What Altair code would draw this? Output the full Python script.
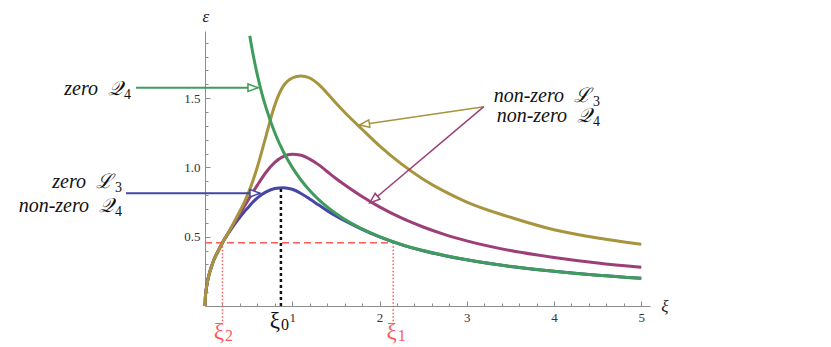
import math
import altair as alt
import pandas as pd

# ---------------- data ----------------
xi = [0, 0.005, 0.015, 0.03, 0.05, 0.075, 0.1, 0.15, 0.2, 0.25,
      0.3, 0.35, 0.4, 0.45, 0.5, 0.55, 0.6, 0.7, 0.8, 0.9,
      1.0, 1.1, 1.2, 1.3, 1.4, 1.5, 1.6, 1.8, 2.0, 2.25,
      2.5, 2.75, 3.0, 3.5, 4.0, 4.5, 5.0]
eps_gold = [0, 0.07, 0.125, 0.18, 0.235, 0.285, 0.33, 0.395, 0.457, 0.51,
            0.566, 0.625, 0.685, 0.748, 0.82, 0.905, 1.003, 1.228, 1.45, 1.59,
            1.645, 1.66, 1.645, 1.6, 1.535, 1.465, 1.398, 1.275, 1.155, 1.025,
            0.915, 0.825, 0.75, 0.64, 0.55, 0.49, 0.445]
eps_magenta = [0, 0.07, 0.125, 0.18, 0.235, 0.285, 0.33, 0.395, 0.457, 0.51,
               0.562, 0.614, 0.666, 0.718, 0.77, 0.822, 0.872, 0.965, 1.036, 1.08,
               1.094, 1.087, 1.06, 1.02, 0.97, 0.92, 0.875, 0.79, 0.715, 0.635,
               0.57, 0.515, 0.47, 0.40, 0.35, 0.31, 0.279]
eps_blue = [0, 0.07, 0.125, 0.18, 0.235, 0.285, 0.33, 0.395, 0.457, 0.508,
            0.555, 0.6, 0.64, 0.68, 0.715, 0.75, 0.78, 0.823, 0.848, 0.854,
            0.842, 0.812, 0.772, 0.73, 0.688, 0.65, 0.615, 0.553, 0.499, 0.443,
            0.399, 0.363, 0.333, 0.285, 0.25, 0.222, 0.2]
xi_green = [0.513, 0.55, 0.6, 0.65, 0.7, 0.8, 0.9, 1.0, 1.1, 1.2, 1.3, 1.4,
            1.5, 1.6, 1.8, 2.0, 2.25, 2.5, 2.75, 3.0, 3.5, 4.0, 4.5, 5.0]
eps_green = [1.95, 1.818, 1.667, 1.538, 1.429, 1.25, 1.111, 1.0, 0.909, 0.833,
             0.769, 0.714, 0.667, 0.625, 0.556, 0.5, 0.444, 0.4, 0.364, 0.333,
             0.286, 0.25, 0.222, 0.2]

# special points
xi0, eps0 = 0.87, 0.854          # peak of the blue curve
xi2, xi1, eps_cut = 0.2, 2.157, 0.457

# tick values / labels
x_labels = [1, 2, 3, 4, 5]
y_labels = [0.5, 1.0, 1.5]
x_ticks = [0.2, 0.4, 0.6, 0.8, 1.0, 1.2, 1.4, 1.6, 1.8, 2.0, 2.2, 2.4, 2.6,
           2.8, 3.0, 3.2, 3.4, 3.6, 3.8, 4.0, 4.2, 4.4, 4.6, 4.8, 5.0]
y_ticks = [0.1, 0.2, 0.3, 0.4, 0.5, 0.6, 0.7, 0.8, 0.9, 1.0, 1.1, 1.2, 1.3,
           1.4, 1.5, 1.6, 1.7, 1.8, 1.9]

# annotation texts (main part + subscript digit)
label_main = ["zero\u2002\U0001D4AC", "zero\u2002\u2112", "non-zero\u2002\U0001D4AC",
              "non-zero\u2002\u2112", "non-zero\u2002\U0001D4AC"]
label_sub = ["4", "3", "4", "3", "4"]
xi_main = ["\u03be", "\u03be", "\u03be"]
xi_sub = ["2", "1", "0"]

# ---------------- layout / style ----------------
W, H = 445, 275
X_DOM = [0, 5.1]
Y_DOM = [0, 1.984]
PX = W / (X_DOM[1] - X_DOM[0])
PY = H / (Y_DOM[1] - Y_DOM[0])
SERIF = "Liberation Serif"
GOLD, MAGENTA, BLUE, GREEN = "#a6943e", "#9c3f78", "#4646a6", "#3f9c5c"
RED = "#ff5a5a"
AXC = "#8c8c8c"

xs = alt.Scale(domain=X_DOM, nice=False, zero=False)
ys = alt.Scale(domain=Y_DOM, nice=False, zero=False)

ax_x_lab = alt.Axis(orient="bottom", values=x_labels, format="d", ticks=False,
                    tickSize=0, labelPadding=5, labelFont=SERIF, labelFontSize=13,
                    labelColor="#333", domainColor=AXC, domainWidth=1, grid=False,
                    title=None)
ax_x_tick = alt.Axis(orient="top", offset=-H, values=x_ticks, labels=False,
                     domain=False, tickColor=AXC, tickWidth=1,
                     tickSize={"condition": {"test": "abs(datum.value - round(datum.value)) < 0.001", "value": 5}, "value": 3},
                     grid=False, title=None)
ax_y_lab = alt.Axis(orient="left", values=y_labels, format=".1f", ticks=False,
                    tickSize=0, labelPadding=5, labelFont=SERIF, labelFontSize=13,
                    labelColor="#333", domainColor=AXC, domainWidth=1, grid=False,
                    title=None)
ax_y_tick = alt.Axis(orient="right", offset=-W, values=y_ticks, labels=False,
                     domain=False, tickColor=AXC, tickWidth=1,
                     tickSize={"condition": {"test": "abs(datum.value*2 - round(datum.value*2)) < 0.001", "value": 5}, "value": 3},
                     grid=False, title=None)


def curve(xv, yv, color, axx=None, axy=None):
    df = pd.DataFrame({"xi": xv, "eps": yv})
    return alt.Chart(df).mark_line(color=color, strokeWidth=3, interpolate="monotone").encode(
        x=alt.X("xi:Q", scale=xs, axis=axx),
        y=alt.Y("eps:Q", scale=ys, axis=axy),
    )


blue = curve(xi, eps_blue, BLUE, ax_x_lab, ax_y_lab)
magenta = curve(xi, eps_magenta, MAGENTA, ax_x_tick, ax_y_tick)
gold = curve(xi, eps_gold, GOLD)
green = curve(xi_green, eps_green, GREEN)

# guide lines
def seg_layer(rows, dash, width, color):
    df = pd.DataFrame(rows, columns=["x", "y", "x2", "y2"])
    return alt.Chart(df).mark_rule(strokeDash=dash, strokeWidth=width, color=color).encode(
        x=alt.X("x:Q", scale=xs, axis=None), y=alt.Y("y:Q", scale=ys, axis=None),
        x2="x2:Q", y2="y2:Q")

red_dash = seg_layer([[0, eps_cut, xi1, eps_cut]], [7, 4], 1.5, RED)
red_dot = seg_layer([[xi2, eps_cut, xi2, -0.15], [xi1, eps_cut, xi1, -0.15]], [1.5, 2], 1.5, RED)
black_dash = seg_layer([[xi0, 0, xi0, eps0]], [3, 3], 2.5, "#111111")

# arrows
arrows = pd.DataFrame({
    "x": [-0.79, -0.905, 3.196, 3.196],
    "y": [1.575, 0.813, 1.438, 1.438],
    "x2": [0.607, 0.63, 1.77, 1.89],
    "y2": [1.575, 0.813, 1.306, 0.745],
    "c": [GREEN, BLUE, GOLD, MAGENTA],
    "w": [2, 2, 1.5, 1.5],
})
arrows["ang"] = [
    math.degrees(math.atan2(-(r.y2 - r.y) * PY, (r.x2 - r.x) * PX)) % 360
    for r in arrows.itertuples()
]
arrow_lines = alt.Chart(arrows).mark_rule().encode(
    x=alt.X("x:Q", scale=xs, axis=None), y=alt.Y("y:Q", scale=ys, axis=None),
    x2="x2:Q", y2="y2:Q",
    color=alt.Color("c:N", scale=None),
    strokeWidth=alt.StrokeWidth("w:Q", scale=None),
)
arrow_heads = alt.Chart(arrows).mark_point(
    shape="M0,0L-2,-0.75L-2,0.75Z", size=100, filled=True, fill="white",
    opacity=1, strokeWidth=1.5,
).encode(
    x=alt.X("x2:Q", scale=xs, axis=None), y=alt.Y("y2:Q", scale=ys, axis=None),
    stroke=alt.Stroke("c:N", scale=None),
    angle=alt.Angle("ang:Q", scale=None),
)

# annotation labels: all right-aligned at their right edge
labels = pd.DataFrame({
    "x": [-0.848, -0.951, -0.951, 4.527, 4.527],
    "y": [1.522, 0.848, 0.678, 1.474, 1.33],
    "main": label_main,
    "sub": label_sub,
})
enc_xy = dict(x=alt.X("x:Q", scale=xs, axis=None), y=alt.Y("y:Q", scale=ys, axis=None))
label_main_layer = alt.Chart(labels).mark_text(
    align="right", baseline="alphabetic", font=SERIF, fontSize=20,
    fontStyle="italic", color="#111", dx=-9).encode(text="main:N", **enc_xy)
label_sub_layer = alt.Chart(labels).mark_text(
    align="right", baseline="alphabetic", font=SERIF, fontSize=14,
    color="#111", dy=4).encode(text="sub:N", **enc_xy)

xi_lab = pd.DataFrame({
    "x": [0.218, 2.199, 0.859],
    "y": [-0.19, -0.19, -0.11],
    "main": xi_main,
    "sub": xi_sub,
    "c": [RED, RED, "#111111"],
})
xi_main_layer = alt.Chart(xi_lab).mark_text(
    align="right", baseline="middle", font=SERIF, fontSize=23).encode(
    text="main:N", color=alt.Color("c:N", scale=None), **enc_xy)
xi_sub_layer = alt.Chart(xi_lab).mark_text(
    align="left", baseline="middle", font=SERIF, fontSize=16, dx=1, dy=4).encode(
    text="sub:N", color=alt.Color("c:N", scale=None), **enc_xy)

axis_names = pd.DataFrame({"x": [0.011, 5.27], "y": [2.085, -0.007], "t": ["\u03b5", "\u03be"]})
axis_text = alt.Chart(axis_names).mark_text(align="center", baseline="middle", font=SERIF,
                                            fontSize=17, fontStyle="italic", color="#222").encode(
    text="t:N", **enc_xy)

chart = alt.layer(
    blue, magenta, red_dash, red_dot, black_dash, gold, green,
    arrow_lines, arrow_heads, label_main_layer, label_sub_layer,
    xi_main_layer, xi_sub_layer, axis_text,
).resolve_axis(x="independent", y="independent").properties(
    width=W, height=H,
    padding={"left": 197, "top": 23, "right": 170, "bottom": 38},
    autosize=alt.AutoSizeParams(type="none"),
).configure_view(stroke=None)

chart.save("out.html", embed_options={"renderer": "svg", "actions": False})
